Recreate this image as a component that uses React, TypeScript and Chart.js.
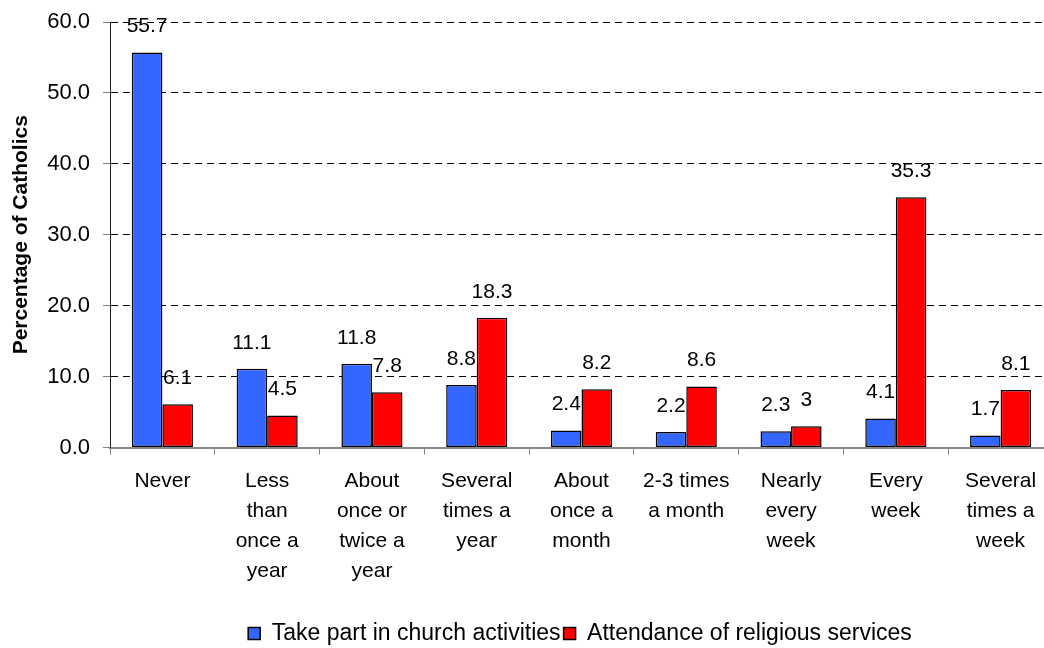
import React, { useEffect, useRef } from "react";
import { Chart, registerables } from "chart.js";

Chart.register(...registerables);

const categories: string[][] = [
  ["Never"],
  ["Less", "than", "once a", "year"],
  ["About", "once or", "twice a", "year"],
  ["Several", "times a", "year"],
  ["About", "once a", "month"],
  ["2-3 times", "a month"],
  ["Nearly", "every", "week"],
  ["Every", "week"],
  ["Several", "times a", "week"],
];

const churchActivities = [55.7, 11.1, 11.8, 8.8, 2.4, 2.2, 2.3, 4.1, 1.7];
const serviceAttendance = [6.1, 4.5, 7.8, 18.3, 8.2, 8.6, 3, 35.3, 8.1];

const seriesNames = ["Take part in church activities", "Attendance of religious services"];
const yAxisTitle = "Percentage of Catholics";

const FONT = '"Liberation Sans", Arial, sans-serif';

// Writes each bar's value a little above its top edge.
const valueLabels = {
  id: "valueLabels",
  afterDatasetsDraw(chart: any) {
    const { ctx } = chart;
    ctx.save();
    ctx.font = `21px ${FONT}`;
    ctx.fillStyle = "#000";
    ctx.textAlign = "center";
    ctx.textBaseline = "middle";
    chart.data.datasets.forEach((ds: any, di: number) => {
      const meta = chart.getDatasetMeta(di);
      meta.data.forEach((bar: any, i: number) => {
        ctx.fillText(String(ds.data[i]), bar.x, bar.y - 26);
      });
    });
    ctx.restore();
  },
};

export default function App() {
  const ref = useRef<HTMLCanvasElement>(null);

  useEffect(() => {
    const chart = new Chart(ref.current as HTMLCanvasElement, {
      type: "bar",
      data: {
        labels: categories,
        datasets: [
          {
            label: seriesNames[0],
            data: churchActivities,
            backgroundColor: "#3366FF",
            borderColor: "#000",
            borderWidth: 1.5,
            borderSkipped: false,
          },
          {
            label: seriesNames[1],
            data: serviceAttendance,
            backgroundColor: "#FF0000",
            borderColor: "#000",
            borderWidth: 1.5,
            borderSkipped: false,
          },
        ],
      },
      options: {
        responsive: false,
        animation: false,
        events: [],
        layout: { padding: { top: 22, left: 0, right: 0, bottom: 0 } },
        datasets: {
          bar: { categoryPercentage: 0.583, barPercentage: 1.0 },
        },
        plugins: {
          tooltip: { enabled: false },
          legend: {
            position: "bottom",
            labels: {
              boxWidth: 12,
              boxHeight: 12,
              padding: 3,
              color: "#000",
              font: { family: FONT, size: 23 },
            },
          },
        },
        scales: {
          x: {
            grid: {
              display: true,
              drawOnChartArea: false,
              drawTicks: true,
              tickLength: 7,
              tickColor: "#808080",
              tickWidth: 1,
              offset: true,
            },
            border: { display: true, color: "#8a8a8a", width: 2 },
            ticks: {
              autoSkip: false,
              maxRotation: 0,
              minRotation: 0,
              padding: 12,
              color: "#000",
              font: { family: FONT, size: 21, lineHeight: "30px" },
            },
            afterFit: (scale: any) => {
              scale.height = 171.5;
            },
          },
          y: {
            min: 0,
            max: 60,
            ticks: {
              stepSize: 10,
              padding: 13,
              color: "#000",
              font: { family: FONT, size: 22, lineHeight: 0.8 },
              callback: (v: any) => Number(v).toFixed(1),
            },
            grid: {
              color: "#000",
              lineWidth: 1,
              drawTicks: true,
              tickLength: 7,
              tickColor: "#808080",
              tickBorderDash: [],
              tickWidth: 1,
            },
            border: { display: true, color: "#222", width: 1, dash: [7, 5] },
            title: {
              display: true,
              text: yAxisTitle,
              color: "#000",
              padding: { top: 9, bottom: 0 },
              font: { family: FONT, size: 21, weight: "bold" },
            },
            afterFit: (scale: any) => {
              scale.width = 110;
            },
          },
          // Empty right-hand axis that reserves room so the plot runs past the visible edge
          spacer: {
            type: "linear",
            position: "right",
            display: true,
            grid: { display: false, drawTicks: false },
            ticks: { display: false },
            border: { display: false },
            afterFit: (scale: any) => {
              scale.width = 107;
            },
          },
        },
      } as any,
      plugins: [valueLabels],
    });
    return () => chart.destroy();
  }, []);

  return (
    <div
      style={{
        position: "absolute",
        left: 0,
        top: 0,
        width: 1044,
        height: 648,
        overflow: "hidden",
        background: "#fff",
      }}
    >
      <canvas ref={ref} width={1160} height={655} style={{ display: "block" }} />
    </div>
  );
}
